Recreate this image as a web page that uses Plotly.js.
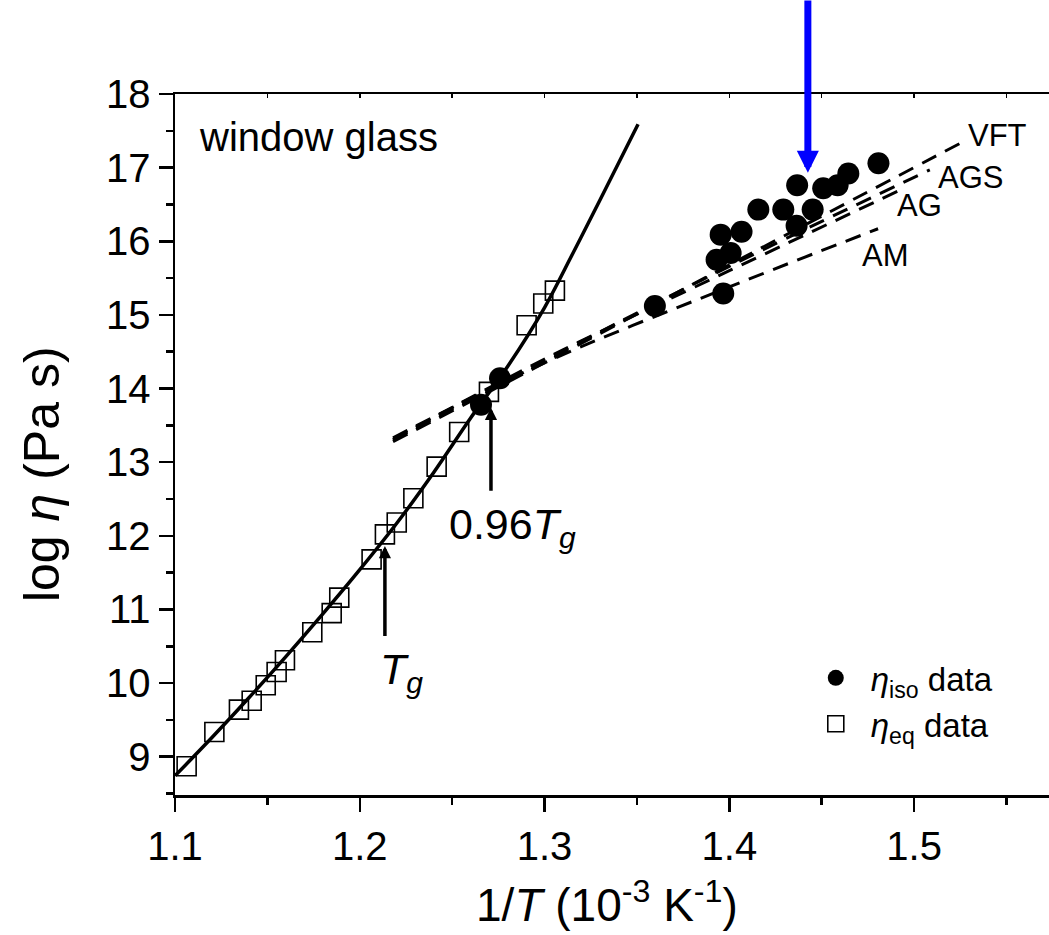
<!DOCTYPE html>
<html>
<head>
<meta charset="utf-8">
<script src="https://cdn.plot.ly/plotly-3.0.1.min.js"></script>
<style>
html,body{margin:0;padding:0;background:#fff;overflow:hidden;}
#chart{width:1049px;height:935px;}
</style>
</head>
<body>
<div id="chart"></div>
<script>
// ---- data ----
// eta_eq data (open squares)
const eqX = [1.1063,1.1213,1.1346,1.1415,1.1491,1.1550,1.1595,1.1743,1.1848,1.1889,1.2064,1.2136,1.2200,1.2290,1.2416,1.2538,1.2699,1.2903,1.2993,1.3056];
const eqY = [8.87,9.335,9.64,9.76,9.97,10.15,10.31,10.69,10.95,11.16,11.68,12.02,12.18,12.51,12.94,13.41,13.955,14.86,15.155,15.33];
// eta_iso data (filled circles)
const isoX = [1.2656,1.2759,1.3597,1.3967,1.3931,1.4007,1.3953,1.4066,1.4157,1.4292,1.4451,1.4364,1.4367,1.4508,1.4586,1.4644,1.4807];
const isoY = [13.78,14.14,15.12,15.29,15.75,15.84,16.09,16.13,16.43,16.43,16.43,16.21,16.76,16.72,16.76,16.92,17.06];
// solid fit curve through the equilibrium data
const fitX = [1.100,1.120,1.140,1.160,1.180,1.200,1.220,1.240,1.260,1.280,1.300,1.315,1.330,1.3506];
const fitY = [8.74,9.26,9.80,10.36,10.94,11.54,12.17,12.86,13.60,14.30,15.10,15.82,16.56,17.59];
// dashed model curves
const vftX = [1.218,1.300,1.400,1.5264];
const vftY = [13.28,14.35,15.68,17.35];
const agsX = [1.218,1.300,1.400,1.5085];
const agsY = [13.30,14.38,15.66,16.97];
const agX  = [1.218,1.300,1.400,1.4912];
const agY  = [13.31,14.40,15.60,16.68];
const amX  = [1.218,1.300,1.400,1.4805];
const amY  = [13.33,14.35,15.38,16.17];
// model labels
const modelNames = ["VFT","AGS","AG","AM"];
const modelLabelX = [1.5280,1.5120,1.4895,1.4705];
const modelLabelY = [17.44,16.86,16.49,15.81];
// arrows: [tipX, tipY, tailX, tailY]
const tgArrow   = [1.2136, 11.86, 1.2136, 10.62];
const tg96Arrow = [1.2710, 13.74, 1.2710, 12.59];
const blueArrow = [1.4425, 16.93, 1.4425, 19.29];
// axis ticks
const xTickVals = [1.1,1.2,1.3,1.4,1.5];
const xTickText = ["1.1","1.2","1.3","1.4","1.5"];
const yTickVals = [9,10,11,12,13,14,15,16,17,18];
const yTickText = ["9","10","11","12","13","14","15","16","17","18"];

const FONT = "Liberation Sans, Arial, sans-serif";
const dashPat = "16px,10px";

const traces = [
  {x: fitX, y: fitY, mode: "lines", line: {color: "#000", width: 3.5, shape: "spline"}, showlegend: false, hoverinfo: "skip"},
  {x: vftX, y: vftY, mode: "lines", line: {color: "#000", width: 3, dash: dashPat, shape: "spline"}, showlegend: false},
  {x: agsX, y: agsY, mode: "lines", line: {color: "#000", width: 3, dash: dashPat, shape: "spline"}, showlegend: false},
  {x: agX,  y: agY,  mode: "lines", line: {color: "#000", width: 3, dash: dashPat, shape: "spline"}, showlegend: false},
  {x: amX,  y: amY,  mode: "lines", line: {color: "#000", width: 3, dash: dashPat, shape: "spline"}, showlegend: false},
  {x: isoX, y: isoY, mode: "markers", name: "<i>η</i><sub>iso</sub> data",
   marker: {symbol: "circle", size: 22, color: "#000", line: {width: 0}}},
  {x: eqX, y: eqY, mode: "markers", name: "<i>η</i><sub>eq</sub> data",
   marker: {symbol: "square-open", size: 19, color: "#000", line: {width: 1.6, color: "#000"}}}
];

const annotations = [];
modelNames.forEach((n, i) => annotations.push({
  x: modelLabelX[i], y: modelLabelY[i], xref: "x", yref: "y", text: n, showarrow: false,
  xanchor: "left", yanchor: "middle", font: {family: FONT, size: 31, color: "#000"}
}));
annotations.push({x: 1.1119, y: 17.42, xref: "x", yref: "y", text: "window glass", showarrow: false,
  xanchor: "left", yanchor: "middle", font: {family: FONT, size: 40, color: "#000"}});
function arrowAnn(a, color, width, size) {
  return {x: a[0], y: a[1], ax: a[2], ay: a[3], xref: "x", yref: "y", axref: "x", ayref: "y",
    text: "", showarrow: true, arrowhead: 2, arrowwidth: width, arrowsize: size, arrowcolor: color};
}
annotations.push(arrowAnn(tgArrow, "#000", 3.5, 0.7));
annotations.push(arrowAnn(tg96Arrow, "#000", 3.5, 0.7));
annotations.push(arrowAnn(blueArrow, "#0000ff", 7, 0.63));
annotations.push({x: 1.2225, y: 10.15, xref: "x", yref: "y", text: "<i>T<sub>g</sub></i>", showarrow: false,
  xanchor: "center", yanchor: "middle", font: {family: FONT, size: 43, color: "#000"}});
annotations.push({x: 1.2824, y: 12.12, xref: "x", yref: "y", text: "0.96<i>T<sub>g</sub></i>", showarrow: false,
  xanchor: "center", yanchor: "middle", font: {family: FONT, size: 43, color: "#000"}});
// axis titles
annotations.push({x: 0.494, y: -0.152, xref: "paper", yref: "paper", text: "1/<i>T</i> (10<sup>-3</sup> K<sup>-1</sup>)",
  showarrow: false, xanchor: "center", yanchor: "middle", font: {family: FONT, size: 46, color: "#000"}});
annotations.push({x: -0.152, y: 0.458, xref: "paper", yref: "paper", text: "log <i>η</i> (Pa s)", textangle: -90,
  showarrow: false, xanchor: "center", yanchor: "middle", font: {family: FONT, size: 50, color: "#000"}});

const layout = {
  width: 1049, height: 935,
  margin: {l: 175, r: 0, t: 94, b: 140, pad: 0},
  paper_bgcolor: "#fff", plot_bgcolor: "#fff",
  font: {family: FONT, color: "#000"},
  showlegend: true,
  legend: {x: 0.716, y: 0.207, xanchor: "left", yanchor: "top", bgcolor: "rgba(0,0,0,0)",
    font: {family: FONT, size: 33, color: "#000"}, itemsizing: "trace", itemwidth: 60, tracegroupgap: 0},
  xaxis: {range: [1.1, 1.573], showgrid: false, zeroline: false, showline: true, linewidth: 2.5, linecolor: "#000",
    ticks: "outside", ticklen: 14, tickwidth: 2.5, tickcolor: "#000", tickvals: xTickVals, ticktext: xTickText,
    tickfont: {family: FONT, size: 40, color: "#000"},
    minor: {dtick: 0.05, tick0: 1.1, ticks: "outside", ticklen: 7, tickwidth: 2.5, tickcolor: "#000"}},
  xaxis2: {overlaying: "x", side: "top", matches: "x", range: [1.1, 1.573], showgrid: false, zeroline: false,
    showline: true, linewidth: 2.5, linecolor: "#000", ticks: "inside", ticklen: 4, tickwidth: 1.5, tickcolor: "#000",
    dtick: 0.05, tick0: 1.1, showticklabels: false},
  yaxis: {range: [8.48, 18], showgrid: false, zeroline: false, showline: true, linewidth: 2.5, linecolor: "#000",
    ticks: "outside", ticklen: 14, tickwidth: 2.5, tickcolor: "#000", tickvals: yTickVals, ticktext: yTickText,
    tickfont: {family: FONT, size: 40, color: "#000"},
    minor: {dtick: 0.5, tick0: 0, ticks: "outside", ticklen: 7, tickwidth: 2.5, tickcolor: "#000"}},
  annotations: annotations
};
// a dummy trace so the top axis is drawn
traces.push({x: [1.1], y: [8.48], xaxis: "x2", mode: "markers", marker: {opacity: 0}, showlegend: false, hoverinfo: "skip"});

Plotly.newPlot("chart", traces, layout, {displayModeBar: false, staticPlot: true});
</script>
</body>
</html>
